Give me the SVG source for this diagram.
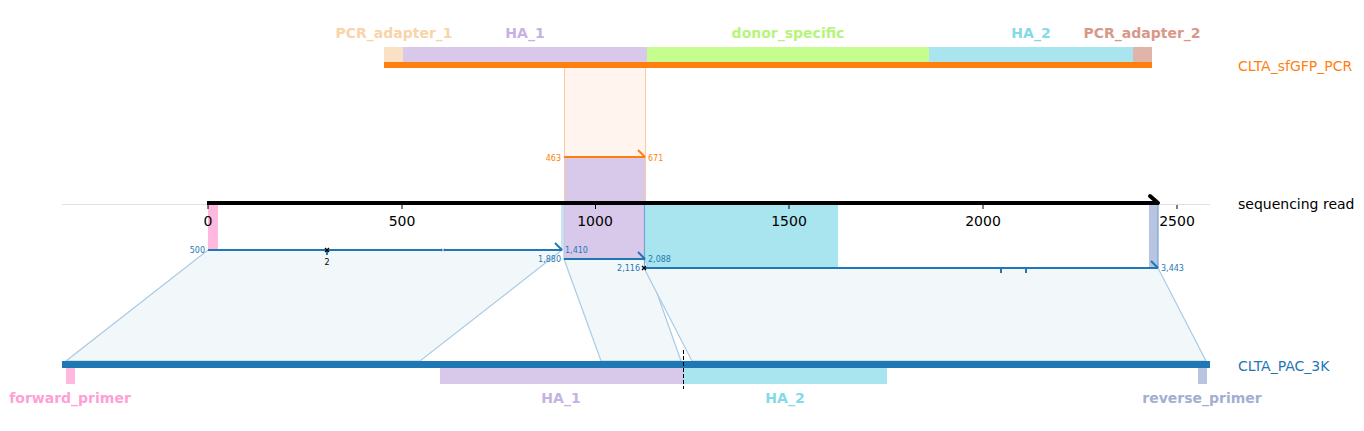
<svg xmlns="http://www.w3.org/2000/svg" width="1364" height="431" viewBox="0 0 1364 431">
<style>
text{font-family:"DejaVu Sans",Verdana,sans-serif}
.tick{font-size:14px;fill:#000;text-anchor:middle}
.flab{font-size:14px;font-weight:bold;text-anchor:middle}
.small{font-size:8px;fill:#1f77b4}
.osmall{font-size:8px;fill:#ff7f0e}
.para{fill:#f2f7fa;stroke:#a9cbe4;stroke-width:1.2}
.aln{stroke:#1f77b4;stroke-width:2;fill:none}
</style>
<rect width="1364" height="431" fill="#fff"/>

<!-- shaded correspondence regions -->
<g id="regions">
  <rect x="564" y="67" width="81" height="90" fill="#fff5ee"/>
  <rect x="564" y="157" width="81" height="101" fill="#d8c8ea"/>
  <rect x="645" y="204" width="193" height="64" fill="#a8e5ee"/>
  <rect x="208" y="204" width="10" height="46" fill="#ffb8de"/>
  <rect x="1149" y="204" width="9" height="64" fill="#b8c4e0"/>
  <line x1="564.5" y1="67" x2="564.5" y2="204" stroke="#fbc9a3" stroke-width="1"/>
  <line x1="645.5" y1="67" x2="645.5" y2="204" stroke="#fbc9a3" stroke-width="1"/>
</g>

<!-- connectors (alignment parallelograms) -->
<g id="connectors">
  <polygon class="para" points="208,250 562,250 420,361 66,361"/>
  <polygon class="para" points="564,259 645,259 681,361 601,361"/>
  <polygon class="para" points="644,268 1158,268 1206,361 692,361"/>
  <line x1="562" y1="204" x2="562" y2="250" stroke="#a9cbe4" stroke-width="1.2"/>
  <line x1="564" y1="204" x2="564" y2="259" stroke="#a9cbe4" stroke-width="1.2"/>
  <line x1="644.5" y1="204" x2="644.5" y2="268" stroke="#6fa8d3" stroke-width="1.2"/>
  <line x1="1158" y1="204" x2="1158" y2="268" stroke="#6fa8d3" stroke-width="1.2"/>
</g>

<!-- read axis -->
<g id="sequencing_read">
  <line x1="62" y1="204.5" x2="1210" y2="204.5" stroke="#e0e0e0" stroke-width="1"/>
  <line x1="207" y1="203" x2="1158" y2="203" stroke="#000" stroke-width="4"/>
  <line x1="1150" y1="196" x2="1158" y2="203" stroke="#000" stroke-width="4" stroke-linecap="round"/>
  <g stroke="#000" stroke-width="1">
    <line x1="208" y1="205" x2="208" y2="209"/>
    <line x1="402" y1="205" x2="402" y2="209"/>
    <line x1="595.5" y1="205" x2="595.5" y2="209"/>
    <line x1="789" y1="205" x2="789" y2="209"/>
    <line x1="983" y1="205" x2="983" y2="209"/>
    <line x1="1177" y1="205" x2="1177" y2="209"/>
  </g>
  <text class="tick" x="208" y="226">0</text>
  <text class="tick" x="402" y="226">500</text>
  <text class="tick" x="595" y="226">1000</text>
  <text class="tick" x="789" y="226">1500</text>
  <text class="tick" x="983" y="226">2000</text>
  <text class="tick" x="1177" y="226">2500</text>
  <text x="1238" y="208.5" font-size="14" fill="#000">sequencing read</text>
</g>

<!-- alignment to PCR on read -->
<g id="aln_pcr">
  <line x1="564" y1="157" x2="645" y2="157" stroke="#ff7f0e" stroke-width="2"/>
  <line x1="638" y1="150" x2="645" y2="157" stroke="#ff7f0e" stroke-width="2"/>
  <text class="osmall" x="561" y="160.5" text-anchor="end">463</text>
  <text class="osmall" x="648" y="160.5">671</text>
</g>

<!-- alignments to CLTA_PAC_3K on read -->
<g id="aln1">
  <line class="aln" x1="208" y1="250" x2="562" y2="250"/>
  <line class="aln" x1="555" y1="243" x2="562" y2="250"/>
  <text class="small" x="205" y="253" text-anchor="end">500</text>
  <text class="small" x="565" y="253">1,410</text>
  <line x1="327" y1="250" x2="327" y2="255" stroke="#1f77b4" stroke-width="2"/>
  <path d="M325,248 L329,252 M329,248 L325,252" stroke="#000" stroke-width="1.3"/>
  <text x="327" y="265" font-size="8" fill="#000" text-anchor="middle">2</text>
  <path d="M441.5,248.5 L444.5,251.5 M444.5,248.5 L441.5,251.5" stroke="#aaa" stroke-width="1"/>
</g>
<g id="aln2">
  <line class="aln" x1="564" y1="259" x2="645" y2="259"/>
  <line class="aln" x1="638" y1="252" x2="645" y2="259"/>
  <text class="small" x="561" y="262" text-anchor="end">1,880</text>
  <text class="small" x="648" y="262">2,088</text>
</g>
<g id="aln3">
  <line class="aln" x1="644" y1="268" x2="1158" y2="268"/>
  <line class="aln" x1="1151" y1="261" x2="1158" y2="268"/>
  <line x1="1001" y1="268" x2="1001" y2="273" stroke="#1f77b4" stroke-width="2"/>
  <line x1="1026" y1="268" x2="1026" y2="273" stroke="#1f77b4" stroke-width="2"/>
  <path d="M642,266 L646,270 M646,266 L642,270" stroke="#000" stroke-width="1.3"/>
  <text class="small" x="640" y="271" text-anchor="end">2,116</text>
  <text class="small" x="1161" y="271">3,443</text>
</g>

<!-- top reference: CLTA_sfGFP_PCR -->
<g id="CLTA_sfGFP_PCR">
  <rect x="384" y="47" width="19" height="15" fill="#fae0c5"/>
  <rect x="403" y="47" width="244" height="15" fill="#d8c8ea"/>
  <rect x="647" y="47" width="282" height="15" fill="#c6fd8f"/>
  <rect x="929" y="47" width="204" height="15" fill="#a8e5ee"/>
  <rect x="1133" y="47" width="19" height="15" fill="#e0b4a8"/>
  <rect x="384" y="62" width="768" height="6" fill="#ff7f0e"/>
  <text class="flab" x="394" y="38" fill="#f9d4a9">PCR_adapter_1</text>
  <text class="flab" x="525" y="38" fill="#c6b2e2">HA_1</text>
  <text class="flab" x="788" y="38" fill="#b6f57a">donor_specific</text>
  <text class="flab" x="1031" y="38" fill="#84d9e8">HA_2</text>
  <text class="flab" x="1142" y="38" fill="#d89888">PCR_adapter_2</text>
  <text x="1238" y="71" font-size="14" fill="#ff7f0e">CLTA_sfGFP_PCR</text>
</g>

<!-- bottom reference: CLTA_PAC_3K -->
<g id="CLTA_PAC_3K">
  <rect x="62" y="361" width="1148" height="7" fill="#1f77b4"/>
  <rect x="66" y="368" width="9" height="16" fill="#ffb8de"/>
  <rect x="440" y="368" width="243" height="16" fill="#d8c8ea"/>
  <rect x="683" y="368" width="204" height="16" fill="#a8e5ee"/>
  <rect x="1198" y="368" width="9" height="16" fill="#b8c4e0"/>
  <line x1="683.5" y1="350" x2="683.5" y2="389" stroke="#000" stroke-width="1" stroke-dasharray="4,2"/>
  <text class="flab" x="70" y="402.5" fill="#ff9fd6">forward_primer</text>
  <text class="flab" x="561" y="402.5" fill="#c6b2e2">HA_1</text>
  <text class="flab" x="785" y="402.5" fill="#84d9e8">HA_2</text>
  <text class="flab" x="1202" y="402.5" fill="#a2afd2">reverse_primer</text>
  <text x="1238" y="371" font-size="14" fill="#1f77b4">CLTA_PAC_3K</text>
</g>
</svg>
